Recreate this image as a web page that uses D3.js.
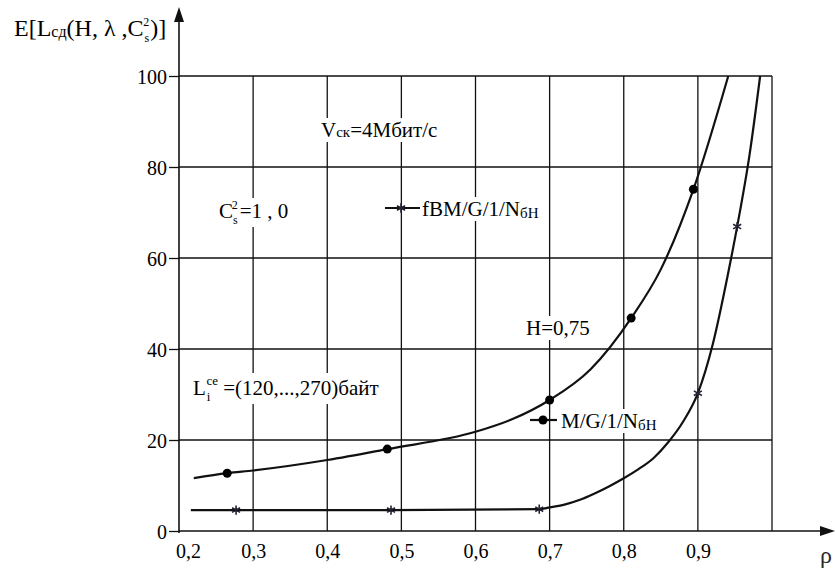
<!DOCTYPE html>
<html>
<head>
<meta charset="utf-8">
<script src="https://cdn.jsdelivr.net/npm/d3@7"></script>
<style>
  body { margin: 0; background: #fff; }
  svg, svg text { font-family: "Liberation Serif", "DejaVu Serif", "Times New Roman", serif; }
</style>
</head>
<body>
<div class="chart"></div>
<script>
// chart values
var rhoTicks = [0.2, 0.3, 0.4, 0.5, 0.6, 0.7, 0.8, 0.9];
var rhoLabels = ["0,2", "0,3", "0,4", "0,5", "0,6", "0,7", "0,8", "0,9"];
var gridRho = [0.3, 0.4, 0.5, 0.6, 0.7, 0.8, 0.9, 1.0];
var eTicks = [0, 20, 40, 60, 80, 100];

// M/G/1/N curve (H=0,75) and its markers
var mgRho = [0.22, 0.265, 0.3, 0.4, 0.481, 0.6, 0.65, 0.7, 0.755, 0.81, 0.85, 0.894, 0.941];
var mgE   = [11.6, 12.7, 13.3, 15.6, 18.0, 21.8, 24.6, 28.8, 35.5, 46.8, 57.5, 75.1, 100];
var mgMarkRho = [0.265, 0.481, 0.7, 0.81, 0.894];
var mgMarkE   = [12.7, 18.0, 28.8, 46.8, 75.1];

// fBM/G/1/N curve and its markers
var fbmRho = [0.216, 0.277, 0.486, 0.686, 0.7, 0.72, 0.74, 0.76, 0.78, 0.8, 0.82, 0.84, 0.86, 0.88, 0.9, 0.92, 0.94, 0.953, 0.97, 0.984];
var fbmE   = [4.6, 4.6, 4.6, 4.8, 5.2, 5.8, 6.8, 8.2, 9.8, 11.6, 13.6, 16.0, 19.5, 24.0, 30.3, 41, 56, 66.9, 83, 100];
var fbmMarkRho = [0.277, 0.486, 0.686, 0.9, 0.953];
var fbmMarkE   = [4.6, 4.6, 4.8, 30.3, 66.9];

var svgWidth = 835;
var svgHeight = 572;
var serif = "'Liberation Serif', 'DejaVu Serif', 'Times New Roman', serif";

var svg = d3.select(".chart")
    .append("svg")
    .attr("width", svgWidth)
    .attr("height", svgHeight);

var xScale = d3.scaleLinear().domain([0.2, 1.0]).range([179, 772]);
var yScale = d3.scaleLinear().domain([0, 100]).range([531, 76]);

var ink = "#111";

// grid
svg.append("g").selectAll("line")
    .data(gridRho)
    .enter()
    .append("line")
    .attr("x1", function (d) { return xScale(d); })
    .attr("x2", function (d) { return xScale(d); })
    .attr("y1", yScale(0))
    .attr("y2", yScale(100))
    .attr("stroke", ink)
    .attr("stroke-width", 1.3);

svg.append("g").selectAll("line")
    .data(eTicks.filter(function (d) { return d > 0; }))
    .enter()
    .append("line")
    .attr("x1", xScale(0.2))
    .attr("x2", xScale(1.0))
    .attr("y1", function (d) { return yScale(d); })
    .attr("y2", function (d) { return yScale(d); })
    .attr("stroke", ink)
    .attr("stroke-width", 1.3);

// y axis
var yAxis = d3.axisLeft(yScale).tickValues(eTicks).tickSize(10).tickFormat(d3.format("d"));
var yG = svg.append("g")
    .attr("transform", "translate(" + xScale(0.2) + ",0)")
    .call(yAxis)
    .attr("font-family", serif);
yG.select(".domain").remove();
yG.selectAll("line").attr("stroke", ink).attr("stroke-width", 1.3);
yG.selectAll("text")
    .attr("font-size", 20)
    .attr("fill", "#000")
    .attr("x", -12)
    .attr("dy", "0.35em");

// x axis
var xAxis = d3.axisBottom(xScale).tickValues(rhoTicks).tickSize(0)
    .tickFormat(function (d, i) { return rhoLabels[i]; });
var xG = svg.append("g")
    .attr("transform", "translate(0," + yScale(0) + ")")
    .call(xAxis)
    .attr("font-family", serif);
xG.select(".domain").remove();
xG.selectAll("text")
    .attr("font-size", 20)
    .attr("fill", "#000")
    .attr("y", 13)
    .attr("dy", "0.71em");
xG.selectAll("text").filter(function (d) { return d === 0.2; }).attr("dx", 9);

// axis lines with arrows
svg.append("line")
    .attr("x1", xScale(0.2)).attr("x2", 824)
    .attr("y1", yScale(0)).attr("y2", yScale(0))
    .attr("stroke", ink).attr("stroke-width", 1.6);
svg.append("path")
    .attr("d", "M835," + yScale(0) + "L820," + (yScale(0) - 5) + "L820," + (yScale(0) + 5) + "Z")
    .attr("fill", ink);
svg.append("line")
    .attr("x1", xScale(0.2)).attr("x2", xScale(0.2))
    .attr("y1", yScale(0) + 2).attr("y2", 20)
    .attr("stroke", ink).attr("stroke-width", 1.6);
svg.append("path")
    .attr("d", "M" + xScale(0.2) + ",7L" + (xScale(0.2) - 5) + ",22L" + (xScale(0.2) + 5) + ",22Z")
    .attr("fill", ink);

svg.append("text")
    .attr("x", 826).attr("y", 563)
    .attr("text-anchor", "middle")
    .attr("font-size", 24)
    .attr("fill", "#2a2a2a")
    .text("ρ");

// curves
var line = d3.line()
    .x(function (d) { return xScale(d[0]); })
    .y(function (d) { return yScale(d[1]); })
    .curve(d3.curveMonotoneX);

svg.append("path")
    .datum(d3.zip(mgRho, mgE))
    .attr("d", line)
    .attr("fill", "none")
    .attr("stroke", ink)
    .attr("stroke-width", 2.2);

svg.append("path")
    .datum(d3.zip(fbmRho, fbmE))
    .attr("d", line)
    .attr("fill", "none")
    .attr("stroke", ink)
    .attr("stroke-width", 2.2);

// markers
var star = d3.symbol().type(d3.symbolAsterisk).size(60);

svg.append("g").selectAll("circle")
    .data(d3.zip(mgMarkRho, mgMarkE))
    .enter()
    .append("circle")
    .attr("cx", function (d) { return xScale(d[0]); })
    .attr("cy", function (d) { return yScale(d[1]); })
    .attr("r", 4.5)
    .attr("fill", "#000");

svg.append("g").selectAll("path")
    .data(d3.zip(fbmMarkRho, fbmMarkE))
    .enter()
    .append("path")
    .attr("d", star)
    .attr("transform", function (d) { return "translate(" + xScale(d[0]) + "," + yScale(d[1]) + ")"; })
    .attr("fill", "none")
    .attr("stroke", "#223")
    .attr("stroke-width", 1.6);

// text blocks with white boxes under them
function label(x, y, size, parts) {
    var g = svg.append("g");
    var bg = g.append("rect").attr("fill", "#fff");
    var t = g.append("text").attr("x", x).attr("y", y).attr("font-size", size).attr("fill", "#000");
    parts.forEach(function (p) {
        var s = t.append("tspan").text(p.t);
        if (p.size) s.attr("font-size", p.size);
        if (p.dy) s.attr("dy", p.dy);
        if (p.dx) s.attr("dx", p.dx);
    });
    var b = t.node().getBBox();
    bg.attr("x", b.x - 2).attr("y", b.y).attr("width", b.width + 4).attr("height", b.height);
    return g;
}

// y axis title
label(14, 36, 24, [
    { t: "E[L" },
    { t: "сд", size: 16, dy: 1 },
    { t: "(H, λ ,C", dy: -1 },
    { t: "s", size: 12, dy: 6, dx: 1 },
    { t: "2", size: 12, dx: -6, dy: -16 },
    { t: ")]", dy: 10, dx: 1 }
]);

label(321, 137, 21, [
    { t: "V" },
    { t: "ск", size: 15 },
    { t: "=4Мбит/с" }
]);

label(219, 218, 21, [
    { t: "C" },
    { t: "s", size: 12, dy: 6 },
    { t: "2", size: 12, dx: -6, dy: -15 },
    { t: "=1 , 0", dy: 9, dx: 2 }
]);

label(526, 335, 21, [{ t: "H=0,75" }]);

label(193, 395, 21, [
    { t: "L" },
    { t: "i", size: 13, dy: 6, dx: 1 },
    { t: "ce", size: 13, dx: -4, dy: -16 },
    { t: " =(120,...,270)байт", dy: 10 }
]);

// legend entries
svg.append("line")
    .attr("x1", 385).attr("x2", 420).attr("y1", 208).attr("y2", 208)
    .attr("stroke", ink).attr("stroke-width", 2.2);
svg.append("path")
    .attr("d", star)
    .attr("transform", "translate(401,208)")
    .attr("fill", "none").attr("stroke", "#223").attr("stroke-width", 1.6);
label(422, 216, 21, [
    { t: "fBM/G/1/N" },
    { t: "бН", size: 15, dy: 2 }
]);

svg.append("line")
    .attr("x1", 530).attr("x2", 557).attr("y1", 420).attr("y2", 420)
    .attr("stroke", ink).attr("stroke-width", 2.2);
svg.append("circle")
    .attr("cx", 543).attr("cy", 420).attr("r", 4.5).attr("fill", "#000");
label(561, 428, 21, [
    { t: "M/G/1/N" },
    { t: "бН", size: 15, dy: 2 }
]);
</script>
</body>
</html>
